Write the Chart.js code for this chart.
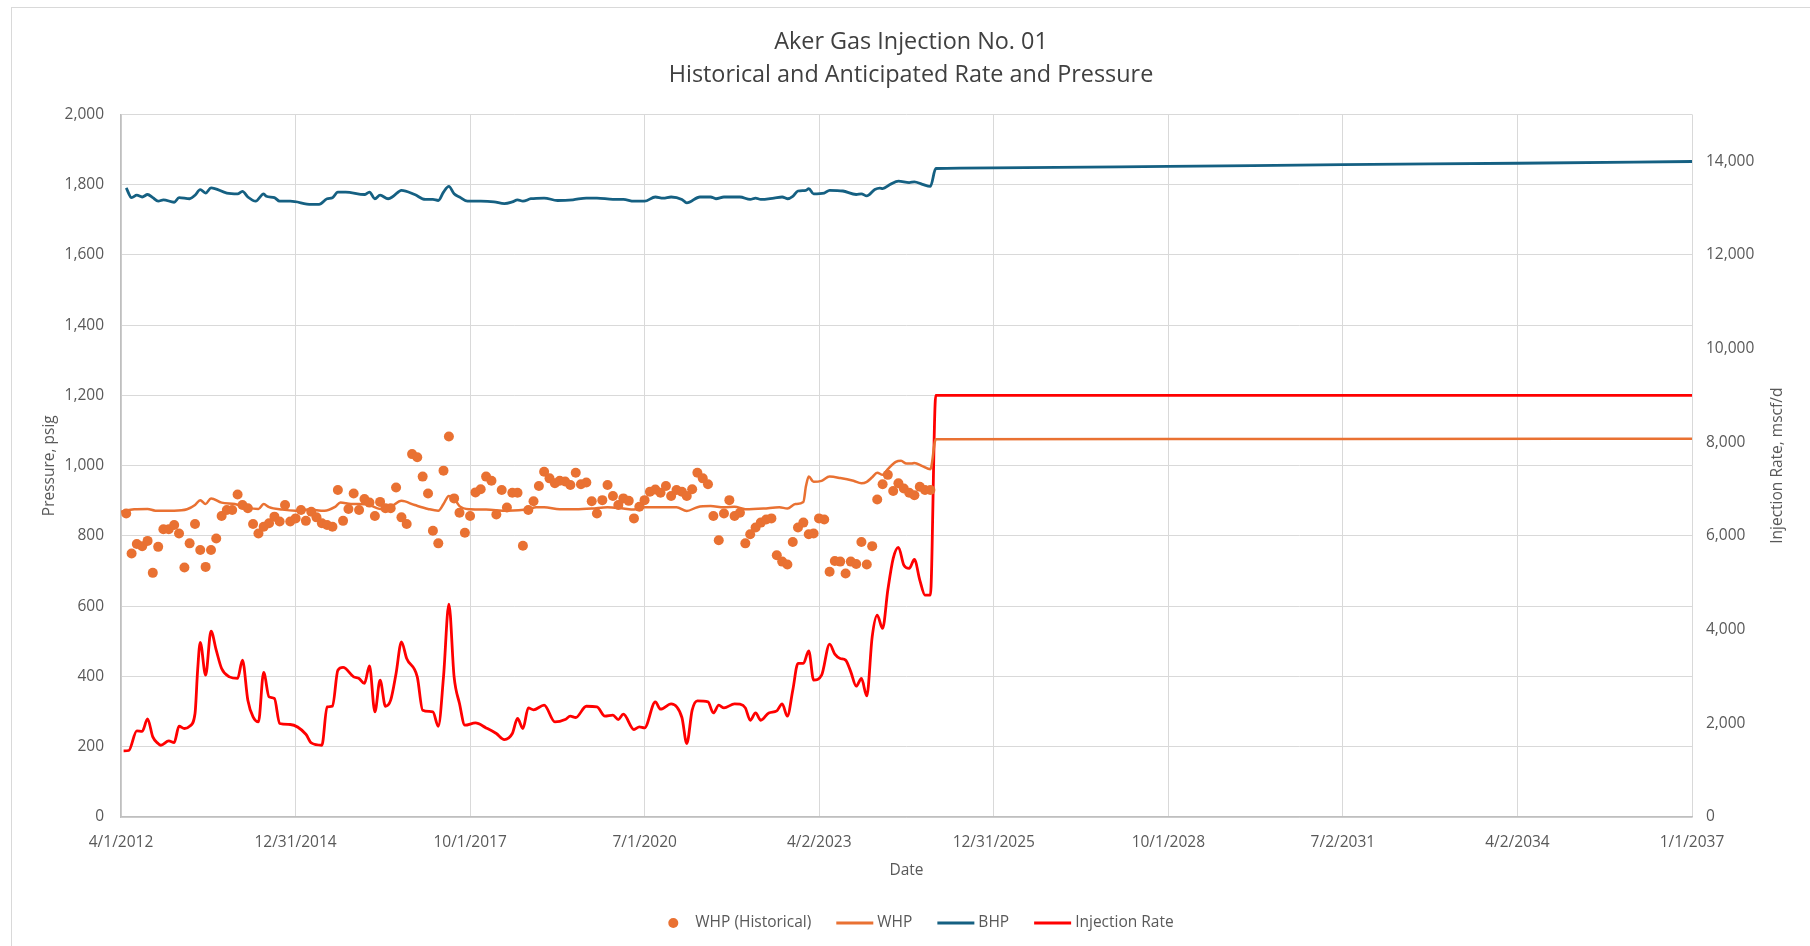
<!DOCTYPE html>
<html>
<head>
<meta charset="utf-8">
<title>Aker Gas Injection No. 01</title>
<script src="https://cdn.jsdelivr.net/npm/chart.js@4.4.1/dist/chart.umd.min.js"></script>
<style>
  html, body { margin: 0; padding: 0; background: #fff; }
  #frame { position: absolute; left: 11px; top: 7px; width: 1810px; height: 950px;
           border-left: 1.5px solid #d9d9d9; border-top: 1.5px solid #d9d9d9; }
  #chart { position: absolute; left: 0; top: 0; }
</style>
</head>
<body>
<div id="frame"></div>
<canvas id="chart" width="1810" height="946"></canvas>
<script>
// Chart data
const X_START = '2012-04-01';
const X_END = '2037-01-01';
const LEFT_TICKS = [0, 200, 400, 600, 800, 1000, 1200, 1400, 1600, 1800, 2000];
const RIGHT_TICKS = [0, 2000, 4000, 6000, 8000, 10000, 12000, 14000];

// WHP (Historical) - monthly measured points, psig
const histMonths = [
  '2012-05','2012-06','2012-07','2012-08','2012-09','2012-10','2012-11','2012-12',
  '2013-01','2013-02','2013-03','2013-04','2013-05','2013-06','2013-07','2013-08','2013-09','2013-10','2013-11','2013-12',
  '2014-01','2014-02','2014-03','2014-04','2014-05','2014-06','2014-07','2014-08','2014-09','2014-10','2014-11','2014-12',
  '2015-01','2015-02','2015-03','2015-04','2015-05','2015-06','2015-07','2015-08','2015-09','2015-10','2015-11','2015-12',
  '2016-01','2016-02','2016-03','2016-04','2016-05','2016-06','2016-07','2016-08','2016-09','2016-10','2016-11','2016-12',
  '2017-01','2017-02','2017-03','2017-04','2017-05','2017-06','2017-07','2017-08','2017-09','2017-10','2017-11','2017-12',
  '2018-01','2018-02','2018-03','2018-04','2018-05','2018-06','2018-07','2018-08','2018-09','2018-10','2018-11','2018-12',
  '2019-01','2019-02','2019-03','2019-04','2019-05','2019-06','2019-07','2019-08','2019-09','2019-10','2019-11','2019-12',
  '2020-01','2020-02','2020-03','2020-04','2020-05','2020-06','2020-07','2020-08','2020-09','2020-10','2020-11','2020-12',
  '2021-01','2021-02','2021-03','2021-04','2021-05','2021-06','2021-07','2021-08','2021-09','2021-10','2021-11','2021-12',
  '2022-01','2022-02','2022-03','2022-04','2022-05','2022-06','2022-07','2022-08','2022-09','2022-10','2022-11','2022-12',
  '2023-01','2023-02','2023-03','2023-04','2023-05','2023-06','2023-07','2023-08','2023-09','2023-10','2023-11','2023-12',
  '2024-01','2024-02','2024-03','2024-04','2024-05','2024-06','2024-07','2024-08','2024-09','2024-10','2024-11','2024-12',
  '2025-01'
];
const histWhp = [
  864, 750, 777, 771, 786, 695, 769, 819,
  819, 831, 807, 710, 779, 834, 760, 712, 760, 793, 857, 874,
  874, 918, 888, 879, 834, 807, 826, 836, 855, 841, 888, 841,
  850, 874, 843, 869, 853, 836, 831, 826, 931, 843, 877, 921,
  874, 905, 895, 857, 897, 879, 879, 938, 853, 834, 1033, 1024,
  969, 921, 815, 779, 986, 1083, 907, 866, 809, 857, 924, 933,
  969, 957, 861, 931, 881, 923, 923, 772, 874, 899, 942, 983,
  964, 950, 957, 955, 945, 980, 947, 952, 899, 864, 902, 945,
  914, 888, 907, 900, 850, 883, 902, 926, 932, 923, 942, 914,
  931, 926, 914, 933, 980, 964, 947, 857, 788, 864, 902, 857,
  866, 779, 805, 824, 838, 847, 850, 745, 727, 719, 783, 824,
  838, 805, 807, 850, 847, 698, 729, 727, 693, 727, 720, 783,
  719, 771, 904, 947, 974, 928, 950, 935, 923, 916, 940, 931,
  931
];

// WHP line, psig
const whpDates = [
  '2012-04-01','2012-06-16','2012-09-01','2012-10-16','2013-02-01','2013-04-16','2013-06-01','2013-07-01',
  '2013-08-01','2013-09-01','2013-11-01','2014-01-16','2014-04-01','2014-06-01','2014-07-01','2014-08-01',
  '2014-10-16','2015-01-01','2015-03-16','2015-06-16','2015-08-16','2015-09-16','2015-11-16','2016-01-01',
  '2016-03-01','2016-05-01','2016-07-01','2016-09-01','2016-11-16','2017-02-01','2017-04-01','2017-05-01',
  '2017-06-01','2017-07-01','2017-08-01','2017-10-01','2018-01-01','2018-05-01','2018-09-01','2018-10-16',
  '2018-12-01','2019-03-01','2019-06-01','2019-09-01','2019-12-01','2020-03-01','2020-05-01','2020-07-01',
  '2020-10-01','2021-01-01','2021-03-01','2021-05-01','2021-07-16','2021-10-01','2021-12-01','2022-02-01',
  '2022-05-16','2022-08-16','2022-10-01','2022-11-16','2023-01-01','2023-01-16','2023-02-01','2023-03-01',
  '2023-04-16','2023-06-01','2023-08-01','2023-10-16','2023-12-01','2024-01-01','2024-02-01','2024-03-01',
  '2024-04-01','2024-05-01','2024-06-16','2024-07-16','2024-08-16','2024-09-16','2024-10-01','2024-11-16',
  '2025-01-01','2025-02-01','2028-10-01','2031-07-02','2037-01-01'
];
const whpValues = [
  869, 876, 877, 872, 872, 876, 888, 902,
  891, 907, 895, 891, 880, 877, 891, 882,
  875, 872, 875, 872, 883, 895, 891, 891,
  888, 877, 883, 900, 888, 877, 872, 891,
  914, 907, 885, 876, 875, 872, 876, 882,
  882, 876, 876, 878, 882, 878, 875, 882,
  882, 882, 871, 882, 885, 882, 883, 876,
  878, 882, 878, 891, 897, 942, 969, 954,
  957, 969, 965, 957, 950, 954, 967, 980,
  974, 990, 1011, 1014, 1006, 1006, 1008, 999,
  990, 1075, 1076, 1076, 1077
];

// BHP line, psig
const bhpDates = [
  '2012-05-01','2012-06-01','2012-07-01','2012-08-01','2012-09-01','2012-10-01','2012-11-01','2012-12-01',
  '2013-02-01','2013-03-01','2013-05-01','2013-06-01','2013-07-01','2013-08-01','2013-09-01','2013-12-01',
  '2014-02-01','2014-03-01','2014-04-01','2014-05-16','2014-07-01','2014-07-16','2014-09-01','2014-10-01',
  '2014-12-01','2015-04-01','2015-05-16','2015-07-01','2015-08-01','2015-09-01','2015-10-16','2016-02-01',
  '2016-03-01','2016-04-01','2016-05-01','2016-06-16','2016-07-16','2016-09-01','2016-11-16','2017-01-16',
  '2017-03-01','2017-04-01','2017-05-01','2017-06-01','2017-07-01','2017-08-01','2017-09-16','2017-12-01',
  '2018-02-16','2018-04-16','2018-06-01','2018-07-01','2018-08-01','2018-09-16','2018-12-01','2019-02-16',
  '2019-05-16','2019-08-01','2019-10-01','2020-01-01','2020-03-01','2020-05-01','2020-07-01','2020-09-01',
  '2020-10-16','2020-12-01','2021-02-01','2021-03-01','2021-05-16','2021-07-16','2021-08-16','2021-10-01',
  '2022-01-01','2022-03-01','2022-04-01','2022-05-01','2022-07-16','2022-09-01','2022-10-01','2022-11-01',
  '2022-12-01','2023-01-16','2023-02-01','2023-03-01','2023-05-01','2023-06-01','2023-08-16','2023-11-01',
  '2023-12-01','2024-01-01','2024-02-16','2024-03-16','2024-04-01','2024-05-16','2024-07-01','2024-09-01',
  '2024-10-01','2024-11-16','2025-01-01','2025-02-01','2025-12-31','2028-10-01','2031-07-02','2034-04-02',
  '2037-01-01'
];
const bhpValues = [
  1791, 1763, 1770, 1765, 1772, 1763, 1753, 1757,
  1750, 1763, 1760, 1770, 1786, 1776, 1791, 1776,
  1774, 1781, 1765, 1753, 1774, 1767, 1763, 1753,
  1753, 1744, 1744, 1760, 1763, 1779, 1779, 1772,
  1779, 1760, 1770, 1760, 1767, 1784, 1772, 1758,
  1758, 1755, 1779, 1795, 1774, 1765, 1753, 1753,
  1751, 1746, 1751, 1757, 1753, 1760, 1762, 1755,
  1757, 1762, 1762, 1758, 1758, 1753, 1753, 1765,
  1762, 1765, 1758, 1748, 1765, 1765, 1760, 1765,
  1765, 1758, 1762, 1758, 1762, 1765, 1760, 1767,
  1782, 1784, 1789, 1774, 1776, 1784, 1782, 1772,
  1774, 1768, 1786, 1790, 1789, 1801, 1810, 1806,
  1808, 1801, 1795, 1846, 1848, 1852, 1857, 1861,
  1866
];

// Injection rate, mscf/d
const rateDates = [
  '2012-04-16','2012-05-16','2012-07-01','2012-08-01','2012-09-01','2012-10-01','2012-11-01','2012-11-16',
  '2013-01-01','2013-02-01','2013-03-01','2013-04-01','2013-05-01','2013-06-01','2013-06-16','2013-07-01',
  '2013-08-01','2013-09-01','2013-10-01','2013-11-01','2013-12-16','2014-02-01','2014-03-01','2014-04-01',
  '2014-05-01','2014-06-01','2014-07-01','2014-08-01','2014-09-01','2014-10-01','2014-12-01','2015-03-01',
  '2015-04-01','2015-06-01','2015-07-01','2015-08-01','2015-09-01','2015-10-01','2015-12-01','2016-01-01',
  '2016-02-01','2016-03-01','2016-04-01','2016-05-01','2016-06-01','2016-07-01','2016-08-01','2016-09-01',
  '2016-10-01','2016-12-01','2017-01-01','2017-03-01','2017-04-01','2017-05-01','2017-06-01','2017-07-01',
  '2017-08-01','2017-09-01','2017-11-01','2018-01-01','2018-03-01','2018-04-16','2018-06-01','2018-07-01',
  '2018-08-01','2018-09-01','2018-10-01','2018-12-01','2019-02-01','2019-04-01','2019-05-01','2019-06-01',
  '2019-08-01','2019-10-01','2019-11-16','2020-01-01','2020-02-01','2020-03-01','2020-05-01','2020-06-01',
  '2020-07-01','2020-09-01','2020-10-01','2020-12-01','2021-02-01','2021-03-01','2021-04-01','2021-05-01',
  '2021-07-01','2021-08-01','2021-09-01','2021-10-01','2021-12-01','2022-01-01','2022-02-01','2022-03-01',
  '2022-04-01','2022-05-01','2022-06-16','2022-08-01','2022-09-01','2022-10-01','2022-11-01','2022-12-01',
  '2023-01-01','2023-02-01','2023-03-01','2023-04-16','2023-06-01','2023-07-01','2023-08-01','2023-09-01',
  '2023-10-01','2023-11-01','2023-12-01','2024-01-01','2024-02-01','2024-03-01','2024-04-01','2024-05-01',
  '2024-06-01','2024-07-01','2024-08-01','2024-09-01','2024-10-01','2024-11-01','2024-12-01','2025-01-01',
  '2025-02-01','2037-01-01'
];
const rateValues = [
  1410, 1420, 1838, 1830, 2094, 1710, 1568, 1532,
  1624, 1590, 1938, 1889, 1938, 2210, 3135, 3727,
  3028, 3968, 3562, 3171, 2992, 2958, 3349, 2494,
  2137, 2030, 3086, 2564, 2530, 1996, 1975, 1767,
  1581, 1532, 2351, 2365, 3135, 3193, 2992, 2958,
  2851, 3227, 2244, 2921, 2365, 2494, 3064, 3740,
  3385, 2992, 2280, 2244, 1938, 2992, 4545, 2992,
  2423, 1960, 2009, 1902, 1782, 1654, 1782, 2103,
  1889, 2330, 2288, 2387, 2030, 2081, 2152, 2124,
  2365, 2351, 2152, 2173, 2081, 2195, 1868, 1923,
  1902, 2458, 2302, 2416, 2124, 1568, 2280, 2479,
  2458, 2222, 2387, 2330, 2416, 2408, 2330, 2066,
  2222, 2066, 2222, 2266, 2416, 2152, 2707, 3278,
  3278, 3547, 2921, 3028, 3691, 3477, 3385, 3349,
  3099, 2793, 2958, 2586, 3847, 4310, 4026, 4845,
  5522, 5757, 5379, 5308, 5500, 5058, 4738, 4738,
  9000, 9000
];

const DAY = 86400000;
const FONT = '"Open Sans", "Noto Sans", sans-serif';
const TEXT = '#595959';
const ORANGE = '#E97132';
const BLUE = '#156082';
const RED = '#FF0000';
const GRID = '#d9d9d9';

function toDay(s) {
  const p = s.split('-').map(Number);
  return Date.UTC(p[0], p[1] - 1, p[2] || 1) / DAY;
}

function points(dates, values) {
  return dates.map((d, i) => ({ x: toDay(d), y: values[i] }));
}

function fmtDate(day) {
  const d = new Date(Math.floor(day + 1e-6) * DAY);
  return (d.getUTCMonth() + 1) + '/' + d.getUTCDate() + '/' + d.getUTCFullYear();
}

const xMin = toDay(X_START);
const xMax = toDay(X_END);

// legend + secondary axis title (reads bottom to top like the original)
const extras = {
  id: 'extras',
  afterDraw(chart) {
    const ctx = chart.ctx;
    const area = chart.chartArea;
    ctx.save();
    ctx.font = '15.5px ' + FONT;
    ctx.fillStyle = TEXT;
    ctx.translate(1778, (area.top + area.bottom) / 2);
    ctx.rotate(-Math.PI / 2);
    ctx.textAlign = 'center';
    ctx.textBaseline = 'middle';
    ctx.fillText('Injection Rate, mscf/d', 0, 0);
    ctx.restore();

    const items = chart.data.datasets.map(ds => ({ text: ds.label, color: ds.borderColor, dot: ds.showLine === false }));
    ctx.save();
    ctx.font = '15.5px ' + FONT;
    ctx.textBaseline = 'middle';
    const markW = 37, gap = 4, spacing = 25, y = 923;
    let total = 0;
    items.forEach(it => { it.w = ctx.measureText(it.text).width; total += (it.dot ? 23 : markW) + gap + it.w; });
    total += spacing * (items.length - 1);
    let x = 921 - total / 2;
    items.forEach(it => {
      if (it.dot) {
        ctx.fillStyle = it.color;
        ctx.beginPath();
        ctx.arc(x + 5, y, 5, 0, Math.PI * 2);
        ctx.fill();
        x += 23 + gap;
      } else {
        ctx.strokeStyle = it.color;
        ctx.lineWidth = 3;
        ctx.beginPath();
        ctx.moveTo(x, y);
        ctx.lineTo(x + markW, y);
        ctx.stroke();
        x += markW + gap;
      }
      ctx.fillStyle = TEXT;
      ctx.textAlign = 'left';
      ctx.fillText(it.text, x, y);
      x += it.w + spacing;
    });
    ctx.restore();
  }
};

new Chart(document.getElementById('chart'), {
  type: 'line',
  data: {
    datasets: [
      {
        label: 'WHP (Historical)',
        data: points(histMonths, histWhp),
        showLine: false,
        borderColor: ORANGE,
        backgroundColor: ORANGE,
        pointRadius: 5,
        pointBorderWidth: 0,
        yAxisID: 'y'
      },
      {
        label: 'WHP',
        data: points(whpDates, whpValues),
        borderColor: ORANGE,
        borderWidth: 2.5,
        pointRadius: 0,
        cubicInterpolationMode: 'monotone',
        yAxisID: 'y'
      },
      {
        label: 'BHP',
        data: points(bhpDates, bhpValues),
        borderColor: BLUE,
        borderWidth: 2.8,
        pointRadius: 0,
        cubicInterpolationMode: 'monotone',
        yAxisID: 'y'
      },
      {
        label: 'Injection Rate',
        data: points(rateDates, rateValues),
        borderColor: RED,
        borderWidth: 2.8,
        pointRadius: 0,
        cubicInterpolationMode: 'monotone',
        yAxisID: 'y1'
      }
    ]
  },
  options: {
    responsive: false,
    animation: false,
    layout: { padding: { left: 12, top: 0, right: 0, bottom: 0 } },
    plugins: {
      legend: { display: false },
      tooltip: { enabled: false },
      title: {
        display: true,
        text: ['Aker Gas Injection No. 01', 'Historical and Anticipated Rate and Pressure'],
        color: '#404040',
        font: { family: FONT, size: 23.4, weight: 'normal', lineHeight: 1.43 },
        padding: { top: 25.5, bottom: 22 }
      }
    },
    scales: {
      x: {
        type: 'linear',
        min: xMin,
        max: xMax,
        afterFit: s => { s.height = 129; },
        afterBuildTicks: s => {
          const step = (xMax - xMin) / 9;
          s.ticks = Array.from({ length: 10 }, (_, i) => ({ value: xMin + i * step }));
        },
        ticks: {
          autoSkip: false,
          maxRotation: 0,
          padding: 16,
          color: TEXT,
          font: { family: FONT, size: 15.5 },
          callback: v => fmtDate(v)
        },
        grid: { color: GRID, lineWidth: 1, drawTicks: false },
        border: { color: '#bfbfbf', width: 1.5 },
        title: {
          display: true,
          text: 'Date',
          color: TEXT,
          font: { family: FONT, size: 15.5 },
          padding: { top: 0, bottom: 66 }
        }
      },
      y: {
        position: 'left',
        min: 0,
        max: 2000,
        afterFit: s => { s.width = 109; },
        afterBuildTicks: s => { s.ticks = LEFT_TICKS.map(v => ({ value: v })); },
        ticks: {
          padding: 17,
          color: TEXT,
          font: { family: FONT, size: 15.5 },
          callback: v => v.toLocaleString('en-US')
        },
        grid: { color: GRID, lineWidth: 1, drawTicks: false },
        border: { color: '#bfbfbf', width: 1.5 },
        title: {
          display: true,
          text: 'Pressure, psig',
          color: TEXT,
          font: { family: FONT, size: 15.5 },
          padding: { top: 28, bottom: 0 }
        }
      },
      y1: {
        position: 'right',
        min: 0,
        max: 15000,
        afterFit: s => { s.width = 118; },
        afterBuildTicks: s => { s.ticks = RIGHT_TICKS.map(v => ({ value: v })); },
        ticks: {
          padding: 14,
          color: TEXT,
          font: { family: FONT, size: 15.5 },
          callback: v => v.toLocaleString('en-US')
        },
        grid: { drawOnChartArea: false, drawTicks: false },
        border: { display: false }
      }
    }
  },
  plugins: [extras]
});
</script>
</body>
</html>
